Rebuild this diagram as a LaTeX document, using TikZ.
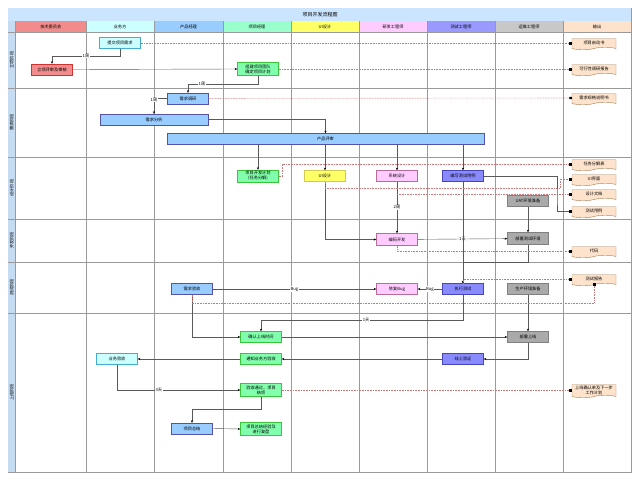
\documentclass[tikz,border=0pt]{standalone}
\usepackage{fontspec}
\setmainfont{Noto Sans CJK SC}
\usetikzlibrary{arrows.meta,shapes.symbols}
\definecolor{hdred}{HTML}{F28C8C}
\definecolor{hdcyan}{HTML}{CCFFFF}
\definecolor{hdblue}{HTML}{99CCFF}
\definecolor{hdgreen}{HTML}{99FFCC}
\definecolor{hdyellow}{HTML}{FFFF66}
\definecolor{hdpink}{HTML}{FFCCFF}
\definecolor{hdpurple}{HTML}{9999FF}
\definecolor{hdgray}{HTML}{C8C8C8}
\definecolor{hdpeach}{HTML}{FDE3CC}
\definecolor{titleblue}{HTML}{CCE5FF}
\definecolor{lanestrip}{HTML}{C5DCF2}
\definecolor{gridgray}{HTML}{9A9A9A}
\definecolor{docred}{HTML}{C87878}
\newcommand\ftiny{\fontsize{4.2}{5}\selectfont}

\begin{document}
\begin{tikzpicture}[x=1pt,y=-1pt,font=\ftiny,
  box/.style={draw,minimum width=41pt,minimum height=11pt,inner sep=0.6pt,
              align=center,line width=0.4pt},
  redbox/.style={box,fill=hdred,draw=red!60!gray},
  cyanbox/.style={box,fill=hdcyan,draw=cyan!70!gray},
  bluebox/.style={box,fill=hdblue,draw=blue!35!gray},
  greenbox/.style={box,fill=hdgreen!85!green,draw=green!55!gray},
  yellowbox/.style={box,fill=hdyellow,draw=yellow!60!gray},
  pinkbox/.style={box,fill=hdpink,draw=magenta!45!gray},
  purplebox/.style={box,fill=hdpurple!90!blue,draw=blue!45!gray},
  graybox/.style={box,fill=hdgray!85!black,draw=gray},
  outbox/.style={tape,tape bend top=none,tape bend height=2.5pt,draw=brown!60!gray,
                 fill=hdpeach,minimum width=44pt,minimum height=11pt,inner sep=0.6pt,
                 align=center,line width=0.4pt},
  line/.style={draw=black!65,line width=0.4pt,-{Stealth[length=2.6pt,width=2.2pt,black]}},
  doc/.style={draw=docred,line width=0.6pt,densely dotted,
              -{Square[length=2.4pt,width=2.4pt,black]}},
  lbl/.style={fill=white,inner sep=0.5pt,font=\ftiny}]

  \useasboundingbox (0,0) rectangle (640,482);

  % --- frame and title ---
  \draw[gridgray,fill=white] (8,8) rectangle (631,472);
  \fill[titleblue] (8,8) rectangle (631,21);
  \node (title) at (320,14.5) {\fontsize{5}{6}\selectfont 项目开发流程图};

  % --- column headers ---
  \foreach \xa/\xb/\col/\name in {15.5/86/hdred/技术委员会,86/154/hdcyan/业务方,
      154/223/hdblue/产品经理,223/291/hdgreen/项目经理,291/359/hdyellow/UI设计,
      359/427/hdpink/研发工程师,427/495/hdpurple/测试工程师,495/563/hdgray/运维工程师,
      563/631/hdpeach/输出} {
    \fill[\col] (\xa,21) rectangle (\xb,32);
    \node at ({(\xa+\xb)/2},26.5) {\name};
  }

  % --- lanes ---
  \fill[lanestrip] (8,21) rectangle (15.5,472);
  \foreach \ya/\yb/\name in {32/88/立项阶段,88/157/需求阶段,157/219/设计阶段,
      219/262/开发阶段,262/313/测试阶段,313/472/上线阶段} {
    \draw[gridgray] (8,\yb) -- (631,\yb);
    \node[rotate=90] at (11.8,{(\ya+\yb)/2}) {\name};
  }
  \draw[gridgray] (8,32) -- (631,32);
  \foreach \xx in {15.5,86,154,223,291,359,427,495,563}
    \draw[gridgray] (\xx,21) -- (\xx,472);

  % --- 立项 ---
  \node[cyanbox] (tijiao) at (120,43) {提交项目需求};
  \node[redbox] (shenhe) at (52,69.5) {立项评审及审核};
  \node[greenbox,minimum height=13pt] (zujian) at (258,69) {组建项目团队\\确定项目计划};
  \node[outbox] (o1) at (594,43) {项目启动书};
  \node[outbox] (o2) at (594,69) {可行性调研报告};

  % --- 需求 ---
  \node[bluebox] (xuqiu) at (188,98.5) {需求调研};
  \node[bluebox,minimum width=108pt] (fenxi) at (154,119.5) {需求分析};
  \node[bluebox,minimum width=317pt] (pingshen) at (325.5,139) {产品评审};
  \node[outbox] (o3) at (594,98) {需求规格说明书};

  % --- 设计 ---
  \node[greenbox,minimum height=12pt] (jihua) at (258,176) {项目开发计划\\(任务分解)};
  \node[yellowbox] (ui) at (325,176) {UI设计};
  \node[pinkbox] (sheji) at (397,176) {系统设计};
  \node[purplebox] (yongli) at (463,176) {编写测试用例};
  \node[graybox] (uat) at (528,201) {UAT环境准备};
  \node[outbox] (o4) at (594,164) {任务分解表};
  \node[outbox] (o5) at (594,179) {UI界面};
  \node[outbox] (o6) at (594,194) {设计文档};
  \node[outbox] (o7) at (594,211) {测试用例};

  % --- 开发 ---
  \node[pinkbox,minimum height=12pt] (kaifa) at (397,239.5) {编码开发};
  \node[graybox,minimum height=12pt] (bushu) at (528,238.5) {部署测试环境};
  \node[outbox] (o8) at (594,251) {代码};

  % --- 测试 ---
  \node[bluebox] (yanshou) at (192,289) {需求验收};
  \node[pinkbox] (xiufu) at (397,289) {修复Bug};
  \node[purplebox] (ceshi) at (463,289) {执行测试};
  \node[graybox] (shengchan) at (528,289) {生产环境准备};
  \node[outbox] (o9) at (594,279) {测试报告};

  % --- 上线 ---
  \node[greenbox] (shangxian) at (261,337) {确认上线时间};
  \node[graybox] (fabu) at (528,337) {部署上线};
  \node[purplebox] (yanzheng) at (463,359) {线上验证};
  \node[greenbox] (tongzhi) at (261,359) {通知业务方验收};
  \node[cyanbox] (yewu) at (117,359) {业务验收};
  \node[greenbox,minimum height=13pt] (jiexiang) at (261,390) {验收通过，项目\\结项};
  \node[outbox,minimum height=13pt] (o10) at (594,390) {上线确认单及下一步\\工作计划};
  \node[bluebox] (zongjie) at (192,428.5) {项目总结};
  \node[greenbox,minimum height=13pt] (fupan) at (261,429) {项目总结经验及\\进行复盘};

  % --- bend points ---
  \coordinate (j0) at (52,56);
  \coordinate (j5) at (188,84);
  \coordinate (j1) at (463,262);
  \coordinate (j2) at (594,303);
  \coordinate (j3) at (261,320);
  \coordinate (j4) at (192,409);

  % --- flow ---
  \draw[line] (tijiao.south) |- (j0) node[lbl,pos=0.75] {1周} -- (shenhe.north);
  \draw[line] (shenhe.east) -- (zujian.west);
  \draw[line] (zujian.south) |- (j5) node[lbl,pos=0.9] {1周} -- (xuqiu.north);
  \draw[line] (xuqiu.west) -| (fenxi.north) node[lbl,pos=0.55] {1周};
  \draw[line] (fenxi.east) -| (pingshen.north);
  \foreach \n in {jihua,ui,sheji,yongli}
    \draw[line] (\n |- pingshen.south) -- (\n.north);
  \draw[line] (sheji) -- (kaifa) node[lbl,midway] {2周};
  \draw[line] (ui.south) |- (kaifa.west);
  \draw[line] (kaifa) -- (bushu) node[lbl,midway] {1天};
  \draw[line] (uat) -- (bushu);
  \draw[line] (bushu.south) |- (j1) -- (ceshi.north);
  \draw[line] (yongli.south) -- (ceshi.north);
  \draw[line] (yanshou.east) -- (xiufu.west) node[lbl,pos=0.5] {Bug};
  \draw[line] (ceshi.west) -- (xiufu.east) node[lbl,midway] {Bug};
  \draw[line] (yanshou.south) |- (shangxian.west);
  \draw[line] (ceshi.south) |- (j3) node[lbl,pos=0.74] {1天} -- (shangxian.north);
  \draw[line] (shangxian.east) -- (fabu.west);
  \draw[line] (shengchan.south) -- (fabu.north);
  \draw[line] (fabu.south) |- (yanzheng.east);
  \draw[line] (yanzheng.west) -- (tongzhi.east);
  \draw[line] (tongzhi.west) -- (yewu.east);
  \draw[line] (yewu.south) |- (jiexiang.west) node[lbl,pos=0.67] {3天};
  \draw[line] (jiexiang.south) |- (j4) -- (zongjie.north);
  \draw[line] (zongjie.east) -- (fupan.west);

  % --- outputs ---
  \draw[doc] (tijiao.east) -- (o1.west);
  \draw[doc] (zujian.east) -- (o2.west);
  \draw[doc] (xuqiu.east) -- (o3.west);
  \draw[doc] (jihua.east) -- ++(4,0) |- (o4.west);
  \draw[doc] (ui.south) |- (560,188) |- (o5.west);
  \draw[doc] (sheji.south |- o6.west) -- (o6.west);
  \draw[line,-{Square[length=2.4pt,width=2.4pt,black]}] (yongli.east) -| (557,200) |- (o7.west);
  \draw[doc] (kaifa.south) |- (o8.west);
  \draw[doc] (ceshi.north) |- (o9.west);
  \draw[doc] (yanshou.south) |- (j2) -- (o9.south);
  \draw[doc] (jiexiang.east) -- (o10.west);

\end{tikzpicture}
\end{document}
